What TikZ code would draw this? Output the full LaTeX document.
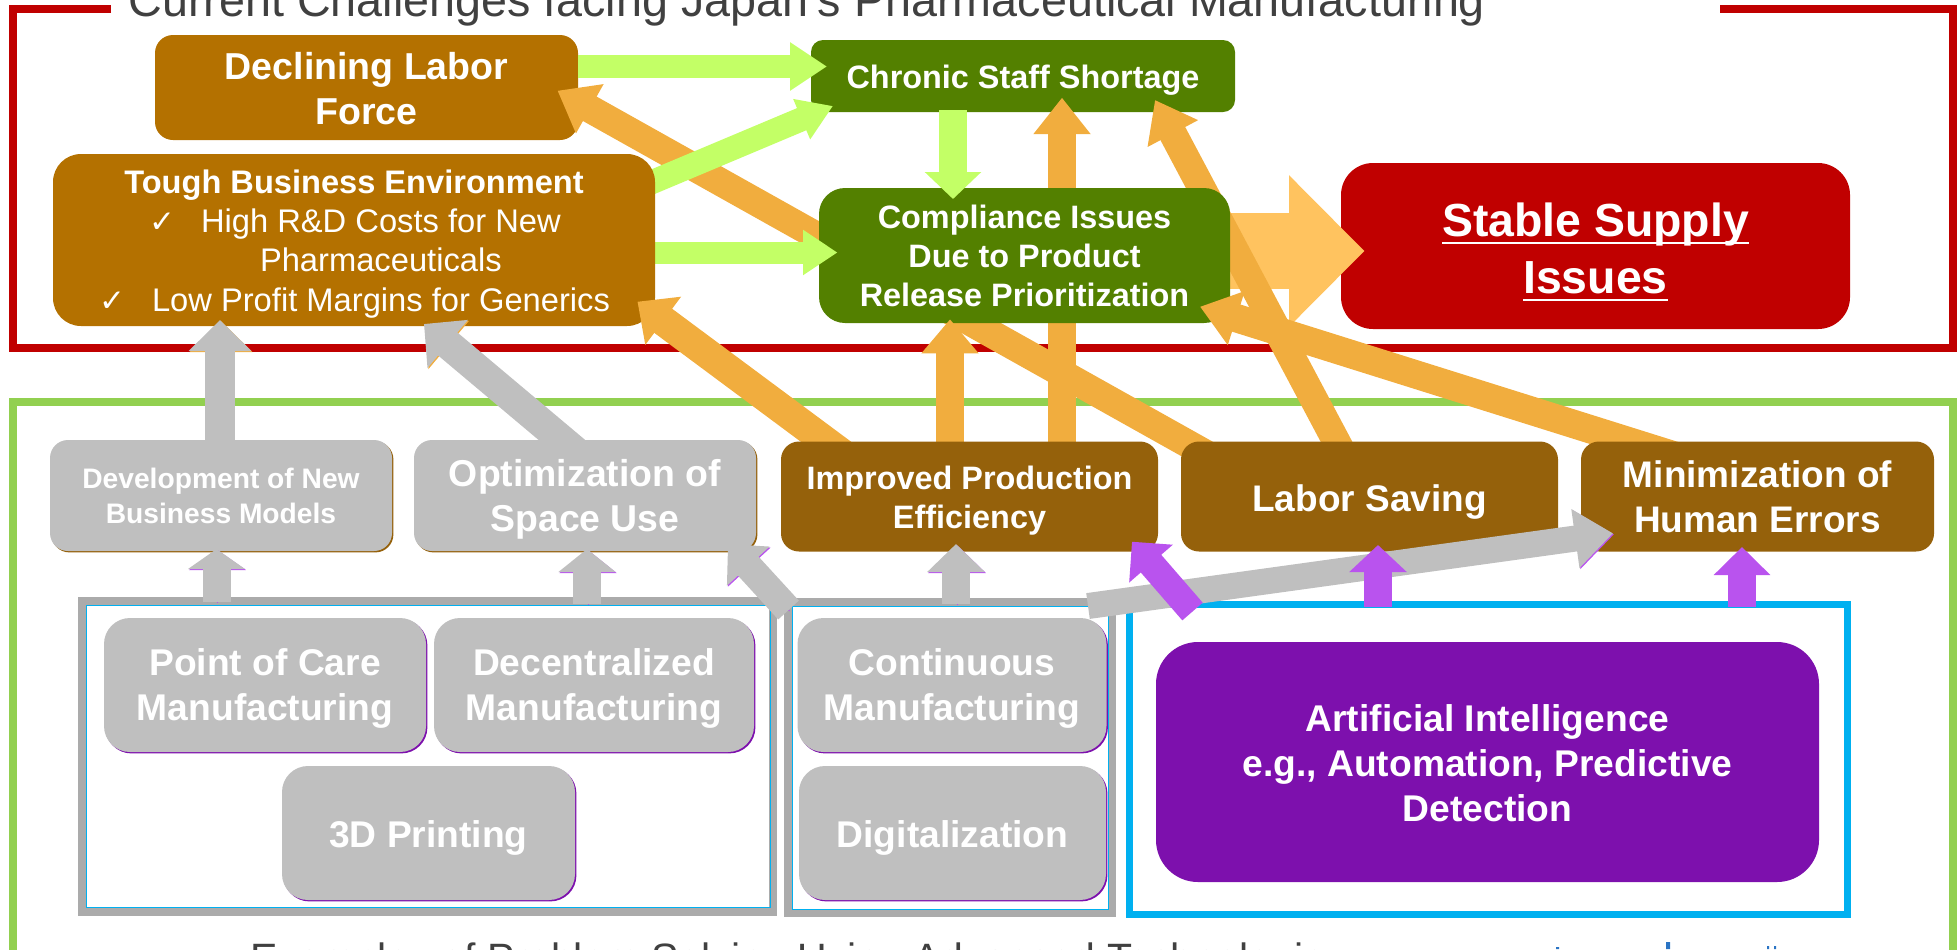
\documentclass[tikz,border=0pt]{standalone}
\usepackage{fontspec}
\setmainfont{Liberation Sans}
\newfontfamily\chkfont{DejaVu Sans}
\usetikzlibrary{arrows.meta,calc,shadows}
\definecolor{cred}{HTML}{C00000}
\definecolor{cgreenframe}{HTML}{92D050}
\definecolor{ctext}{HTML}{404040}
\definecolor{cochre}{HTML}{B47100}
\definecolor{cleaf}{HTML}{538000}
\definecolor{cbrown}{HTML}{95610B}
\definecolor{cgrey}{HTML}{BFBFBF}
\definecolor{cframe}{HTML}{ABABAB}
\definecolor{cblue}{HTML}{00B0F0}
\definecolor{cviolet}{HTML}{7D10AD}
\definecolor{corange}{HTML}{F1AD3E}
\definecolor{cpale}{HTML}{FFC35F}
\definecolor{clime}{HTML}{C3FF66}
\definecolor{cpurple}{HTML}{B953EE}
\definecolor{cmark}{HTML}{2A74C4}
\newcommand\undertxt[1]{\leavevmode\setbox0\hbox{#1}\rlap{\rule[-3.8pt]{\wd0}{1.2pt}}\box0}
\newcommand\topstrut[1]{\rule{0pt}{#1pt}}
\tikzset{
  sz/.style 2 args={minimum width=#1*0.5pt,minimum height=#2*0.5pt},
  boxnode/.style={inner sep=0pt,outer sep=0pt,align=center,text=white},
  txt/.style 2 args={font=\fontsize{#1}{#2}\selectfont\bfseries},
  rnd/.style={rounded corners=#1*0.5pt},
  edgeshadow/.style={general shadow={fill=#1,shadow xshift=0.7pt,shadow yshift=-0.7pt}},
  arr/.style n args={3}{line width=#1,-{Triangle[length=#3,width=#2]}},
  edged/.style={preaction={draw=#1,transform canvas={xshift=0.5pt,yshift=-0.5pt}}},
  plain/.style={inner sep=0pt,outer sep=0pt,text=white,anchor=base west,font=\fontsize{16.35}{19.5}\selectfont},
  frameline/.style={line width=3.75pt,line cap=butt,line join=miter},
  boxframe/.style={inner sep=0pt,outer sep=0pt,fill=white,draw=#1,line width=4pt},
}
\begin{document}
\begin{tikzpicture}[x=0.5pt,y=-0.5pt]
\useasboundingbox (0,0) rectangle (1957,949);
\clip (0,0) rectangle (1957,949);
% outer frames
\draw[frameline,cred] (111,9) -- (13,9) -- (13,348) -- (1953,348) -- (1953,9) -- (1720,9);
\draw[frameline,cgreenframe] (13,960) -- (13,402) -- (1953,402) -- (1953,960);
\node[inner sep=0pt,anchor=base west,text=ctext,font=\fontsize{23.35}{28}\selectfont] (title) at (128,16) {Current Challenges facing Japan's Pharmaceutical Manufacturing};
\node[inner sep=0pt,anchor=base west,text=ctext,font=\fontsize{20.5}{25}\selectfont] (foot) at (250,972) {Examples of Problem Solving Using Advanced Technologies};
\fill[cmark] (1556,947) rectangle (1559,949) (1666,942) rectangle (1670,949) (1767,946) rectangle (1769,949) (1774,946) rectangle (1776,949);
% upper boxes
\node[boxnode,sz={423}{105},rnd=18,fill=cochre,txt={18.75}{22.5}] (labor) at (366.5,87.5) {\topstrut{14.8}Declining Labor\\Force};
\node[boxnode,sz={424}{72},rnd=12,fill=cleaf,txt={16.2}{19.5}] (chronic) at (1023,76) {\topstrut{15.8}Chronic Staff Shortage};
\node[boxnode,sz={509}{166},rnd=32,fill=cred,txt={23.2}{28.5}] (stable) at (1595.5,246) {\topstrut{22.9}\undertxt{Stable Supply}\\\undertxt{Issues}};
% big arrow
\coordinate (bigstart) at ($(stable)+(-365.5,5)$);
\draw[arr={38pt}{73.5pt}{37.75pt},cpale] (bigstart) -- ($(stable)+(-231,5)$);
% orange arrows that pass behind the compliance box
\node[boxnode,sz={377}{110}] (imp) at (969.5,496.5) {};
\node[boxnode,sz={377}{110}] (labsav) at (1369.5,496.5) {};
\node[boxnode,sz={353}{110}] (minim) at (1757.5,496.5) {};
\draw[arr={14pt}{27pt}{18.5pt},corange] ($(labsav)+(-129.5,-23.5)$) -- ($(labor)+(191,3.2)$);
\draw[arr={14pt}{27.5pt}{18.25pt},corange] ($(imp)+(92.5,-26.5)$) -- ($(chronic)+(39,21.7)$);
\draw[arr={14pt}{27.3pt}{19pt},corange] ($(labsav)+(-19.5,-29.3)$) -- ($(chronic)+(132,24)$);
% compliance box
\node[boxnode,sz={411}{135},rnd=26,fill=cleaf,txt={16.2}{19.5}] (comp) at (1024.5,255.5) {Compliance Issues\\Due to Product\\Release Prioritization};
% lime arrows
\node[boxnode,sz={602}{172}] (tough) at (354,240) {};
\draw[arr={11.5pt}{23pt}{18.5pt},clime] ($(labor)+(211.5,-21)$) -- ($(chronic)+(-196,-9.5)$);
\draw[arr={12pt}{20.7pt}{17pt},clime] ($(tough)+(246,-36)$) -- ($(chronic)+(-190,30)$);
\draw[arr={11pt}{21.5pt}{17.25pt},clime] ($(tough)+(301,12.5)$) -- ($(comp)+(-187,-3)$);
\draw[arr={14pt}{27.5pt}{13.5pt},clime] ($(chronic)+(-70,34)$) -- ($(comp)+(-71.5,-56.5)$);
% tough box
\node[boxnode,sz={602}{172},rnd=28,fill=cochre] (tough) at (354,240) {};
\node[plain,anchor=base,font=\fontsize{16.3}{19.5}\selectfont\bfseries] (t1) at (354,193) {Tough Business Environment};
\node[plain,font=\chkfont\fontsize{15.5}{17}\selectfont] (c1) at (149,232) {✓};
\node[plain] (t2) at (201,232) {High R\&D Costs for New};
\node[plain] (t3) at (260,271) {Pharmaceuticals};
\node[plain,font=\chkfont\fontsize{15.5}{17}\selectfont] (c2) at (99,311) {✓};
\node[plain] (t4) at (152,311) {Low Profit Margins for Generics};
% orange arrows onto boxes
\draw[arr={14pt}{27.5pt}{17pt},corange] ($(imp)+(-19.5,-26.5)$) -- ($(comp)+(-74.5,63.8)$);
\draw[arr={15pt}{29pt}{16pt},corange] ($(imp)+(-107.5,-28)$) -- ($(tough)+(283.5,61.7)$);
\draw[arr={14.2pt}{27pt}{19pt},corange] ($(minim)+(-77.5,-39.1)$) -- ($(comp)+(175.5,51.2)$);
% grey arrows to upper boxes
\node[boxnode,sz={342}{111}] (devel) at (221,495.5) {};
\node[boxnode,sz={342}{111}] (optim) at (585,495.5) {};
\draw[arr={15pt}{30.5pt}{15.5pt},cgrey,edged=corange] ($(devel)+(-1,-25.5)$) -- ($(tough)+(-134,80)$);
\draw[arr={15pt}{30.5pt}{15.5pt},cgrey,edged=corange] ($(optim)+(15,-23.5)$) -- ($(tough)+(70,84)$);
% middle row
\node[boxnode,sz={342}{111},rnd=18,fill=cgrey,edgeshadow=cbrown,txt={14.1}{17.5}] (devel) at (221,495.5) {Development of New\\Business Models};
\node[boxnode,sz={342}{111},rnd=18,fill=cgrey,edgeshadow=cbrown,txt={18.7}{22.5}] (optim) at (585,495.5) {\topstrut{17.5}Optimization of\\Space Use};
\node[boxnode,sz={377}{110},rnd=18,fill=cbrown,txt={16.2}{19.5}] (imp) at (969.5,496.5) {\topstrut{16.2}Improved Production\\Efficiency};
\node[boxnode,sz={377}{110},rnd=18,fill=cbrown,txt={18.5}{22.5}] (labsav) at (1369.5,496.5) {\topstrut{18.5}Labor Saving};
\node[boxnode,sz={353}{110},rnd=18,fill=cbrown,txt={18.5}{22.5}] (minim) at (1757.5,496.5) {Minimization of\\Human Errors};
% lower frames
\node[boxframe=cframe,sz={691}{311}] (fL) at (427.5,756.5) {};
\draw[cblue,line width=0.5pt] (86,605) rectangle (770,907);
\node[boxframe=cframe,sz={324}{311}] (fM) at (950,757.5) {};
\draw[cblue,line width=0.5pt] (792,606) rectangle (1108,909);
\node[boxframe=cblue,line width=3.5pt,sz={718}{310.5}] (fB) at (1488,759.25) {};
% inner boxes
\node[boxnode,sz={322}{134},rnd=26,fill=cgrey,edgeshadow=cviolet,txt={18.6}{22.5}] (poc) at (265,685) {\topstrut{17.4}Point of Care\\Manufacturing};
\node[boxnode,sz={320}{134},rnd=26,fill=cgrey,edgeshadow=cviolet,txt={18.6}{22.5}] (dec) at (594,685) {\topstrut{17.4}Decentralized\\Manufacturing};
\node[boxnode,sz={293}{134},rnd=26,fill=cgrey,edgeshadow=cviolet,txt={18.6}{22.5}] (print) at (428.5,833) {\topstrut{18.6}3D Printing};
\node[boxnode,sz={309}{134},rnd=26,fill=cgrey,edgeshadow=cviolet,txt={18.6}{22.5}] (cont) at (952,685) {\topstrut{17.4}Continuous\\Manufacturing};
\node[boxnode,sz={307}{134},rnd=26,fill=cgrey,edgeshadow=cviolet,txt={18.6}{22.5}] (digi) at (952.5,833) {\topstrut{18.6}Digitalization};
\node[boxnode,sz={663}{240},rnd=42,fill=cviolet,txt={18.6}{22.5}] (ai) at (1487.5,762) {\topstrut{14.5}Artificial Intelligence\\e.g., Automation, Predictive\\Detection};
% grey and purple arrows
\draw[arr={14pt}{28pt}{10pt},cgrey,edged=cpurple] ($(fL)+(-211,-154.5)$) -- ($(devel)+(-4.5,53.5)$);
\draw[arr={14pt}{28pt}{11.5pt},cgrey,edged=cpurple] ($(fL)+(159.5,-152.5)$) -- ($(optim)+(2,53.5)$);
\draw[arr={14pt}{28pt}{15pt},cgrey,edged=cpurple] ($(fM)+(-161.5,-147.5)$) -- ($(optim)+(143,48.5)$);
\draw[arr={14pt}{28pt}{14pt},cgrey,edged=cpurple] ($(fM)+(6,-153.5)$) -- ($(imp)+(-13.5,47.5)$);
\draw[arr={13pt}{28.5pt}{19pt},cgrey,edged=cpurple] ($(fM)+(138,-151.5)$) -- ($(minim)+(-144.5,36.8)$);
\draw[arr={13.5pt}{28pt}{14.5pt},cpurple] ($(fB)+(-295.5,-147.75)$) -- ($(imp)+(162.5,45.2)$);
\draw[arr={14pt}{28pt}{13.5pt},cpurple] ($(fB)+(-110,-152.25)$) -- ($(labsav)+(8.5,48.5)$);
\draw[arr={14pt}{27.5pt}{14pt},cpurple] ($(fB)+(254,-152.25)$) -- ($(minim)+(-15.5,50.5)$);
\end{tikzpicture}
\end{document}
